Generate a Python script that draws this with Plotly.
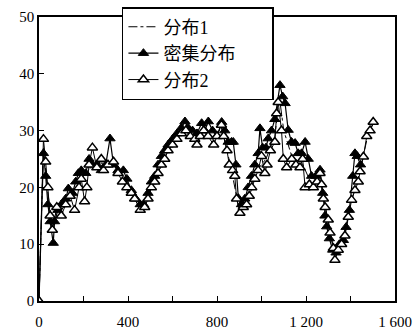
import plotly.graph_objects as go

# 分布2 (open triangles)
x2 = [0, 20, 30, 40, 50, 60, 80, 100, 120, 140, 160, 180, 190, 205, 215, 225, 240, 260, 280, 290,
      310, 335, 355, 375, 395, 415, 430, 455, 475, 490, 505, 520, 535, 550, 565, 580, 600, 620, 640, 660,
      680, 700, 710, 725, 740, 760, 785, 800, 820, 830, 845, 855, 870, 880, 888, 903, 918, 933, 945, 956,
      970, 985, 1000, 1015, 1025, 1040, 1060, 1068, 1075, 1090, 1098, 1113, 1136, 1155, 1173, 1185, 1196, 1215, 1233, 1250,
      1263, 1270, 1278, 1286, 1300, 1308, 1323, 1330, 1345, 1360, 1375, 1390, 1405, 1420, 1435, 1443, 1458, 1473, 1488, 1502]
y2 = [0, 28.5, 24.5, 20, 15, 12.5, 16.5, 15, 17, 18.5, 16, 20, 21.5, 17.5, 20, 24, 27, 23.5, 25, 23,
      24, 24.5, 22.5, 21, 20, 19, 18, 16, 16.5, 18, 20, 21, 22.5, 24, 25, 26.5, 27.5, 28.5, 29.5, 30,
      29, 28.5, 27.5, 29, 30, 29, 27.5, 29, 31, 29, 26.5, 24, 23, 22, 18, 15.5, 16.5, 17, 18.5, 20,
      21.5, 23, 25.5, 22.5, 24, 26.5, 28, 33, 35, 30, 25, 23.5, 25, 24, 23.5, 25, 20, 20.5, 20, 21,
      22.5, 20.5, 18, 16.5, 14.3, 12, 9.3, 7.2, 9, 10, 11.5, 14.8, 17.8, 19.5, 21, 22.8, 25.4, 29, 30, 31.5]

# 密集分布 (filled triangles)
xd = [0, 20, 30, 40, 50, 64, 70, 85, 100, 120, 132, 150, 165, 177, 190, 210, 225, 240, 260, 280,
      300, 319, 335, 355, 379, 395, 415, 435, 455, 470, 490, 505, 520, 535, 550, 565, 580, 600, 620, 640,
      656, 670, 690, 710, 731, 745, 761, 780, 800, 821, 835, 850, 865, 873, 885, 896, 910, 925, 940, 955,
      970, 985, 993, 1005, 1020, 1030, 1045, 1060, 1083, 1095, 1106, 1120, 1135, 1151, 1165, 1180, 1196, 1210, 1225, 1245,
      1263, 1275, 1285, 1293, 1305, 1320, 1335, 1350, 1368, 1380, 1395, 1410, 1420, 1430, 1445]
yd = [0, 26, 22, 17, 14, 10.2, 14, 16, 17, 18, 19.8, 19, 21, 22.5, 23, 22.5, 25, 24, 24, 23,
      24, 28.6, 24, 23, 23, 21.5, 19.5, 18, 17, 17, 19, 21, 22, 24, 25.5, 26.5, 27.5, 28.5, 29.5, 30.5,
      31.6, 30.5, 30, 29.5, 31.3, 30, 31.6, 30, 29, 31.5, 30, 28, 28, 28, 24, 18.1, 17, 18, 20, 22,
      24, 26, 30.4, 27, 27, 28.6, 30, 32, 38, 36, 34.8, 30.1, 28, 27.8, 26, 26, 28, 25, 22, 22,
      23.1, 19, 15, 13.1, 11, 9, 8.5, 10, 10.7, 13, 16, 22, 26, 25.5, 24]

# 分布1 (dash-dot line)
x1 = [0, 20, 40, 60, 80, 100, 140, 180, 220, 260, 300, 340, 380, 420, 460, 500, 540, 580, 620, 660,
      700, 740, 780, 820, 860, 900, 940, 980, 1020, 1060, 1080, 1100, 1140, 1180, 1220, 1260, 1300, 1330, 1360, 1400,
      1440, 1480, 1500]
y1 = [0, 27, 19, 13, 16, 16, 18, 21, 23, 24.5, 24, 24, 22, 19, 16.5, 19.5, 23, 26.5, 28.5, 30,
      29, 30, 28.5, 30.5, 24, 16, 19, 23, 25, 29, 36, 30, 25, 24.5, 21, 22, 14, 8, 10, 17,
      22.5, 29.5, 31]

names = ["分布1", "密集分布", "分布2"]
xtickvals = [0, 200, 400, 600, 800, 1000, 1200, 1400, 1600]
xticktext = ["0", "", "400", "", "800", "", "1 200", "", "1 600"]
ytickvals = [0, 10, 20, 30, 40, 50]

pad = "\u00a0" * 7
fig = go.Figure()
fig.add_trace(go.Scatter(x=x1, y=y1, mode="lines", name=names[0] + pad,
                         line=dict(color="black", width=1, dash="dashdot")))
fig.add_trace(go.Scatter(x=xd, y=yd, mode="lines+markers", name=names[1] + pad,
                         line=dict(color="black", width=1.2),
                         marker=dict(symbol="triangle-up", size=9, color="black",
                                     line=dict(color="black", width=1))))
fig.add_trace(go.Scatter(x=x2, y=y2, mode="lines+markers", name=names[2] + pad,
                         line=dict(color="black", width=1),
                         marker=dict(symbol="triangle-up", size=9, color="white",
                                     line=dict(color="black", width=1.5))))

font_fam = "Liberation Serif, Noto Sans CJK SC, serif"
fig.update_layout(
    width=417, height=332,
    margin=dict(l=39, r=22, t=17, b=31, autoexpand=False),
    paper_bgcolor="white", plot_bgcolor="white",
    font=dict(family=font_fam, size=14, color="black"),
    showlegend=True,
    legend=dict(x=0.233, y=1.035, xanchor="left", yanchor="top",
                bgcolor="white", bordercolor="black", borderwidth=1.5,
                font=dict(family=font_fam, size=18, color="black"),
                tracegroupgap=0),
    xaxis=dict(range=[0, 1600], tickvals=xtickvals, ticktext=xticktext,
               ticks="inside", ticklen=5, tickcolor="black", tickwidth=1.2,
               showline=True, linecolor="black", linewidth=1.5, mirror=True,
               showgrid=False, zeroline=False, ticklabelstandoff=6, automargin=False,
               tickfont=dict(family=font_fam, size=15)),
    yaxis=dict(range=[0, 50], tickvals=ytickvals, automargin=False,
               ticks="inside", ticklen=5, tickcolor="black", tickwidth=1.2,
               showline=True, linecolor="black", linewidth=1.5, mirror=True,
               showgrid=False, zeroline=False,
               tickfont=dict(family=font_fam, size=15)),
)
fig.write_html("out.html")
